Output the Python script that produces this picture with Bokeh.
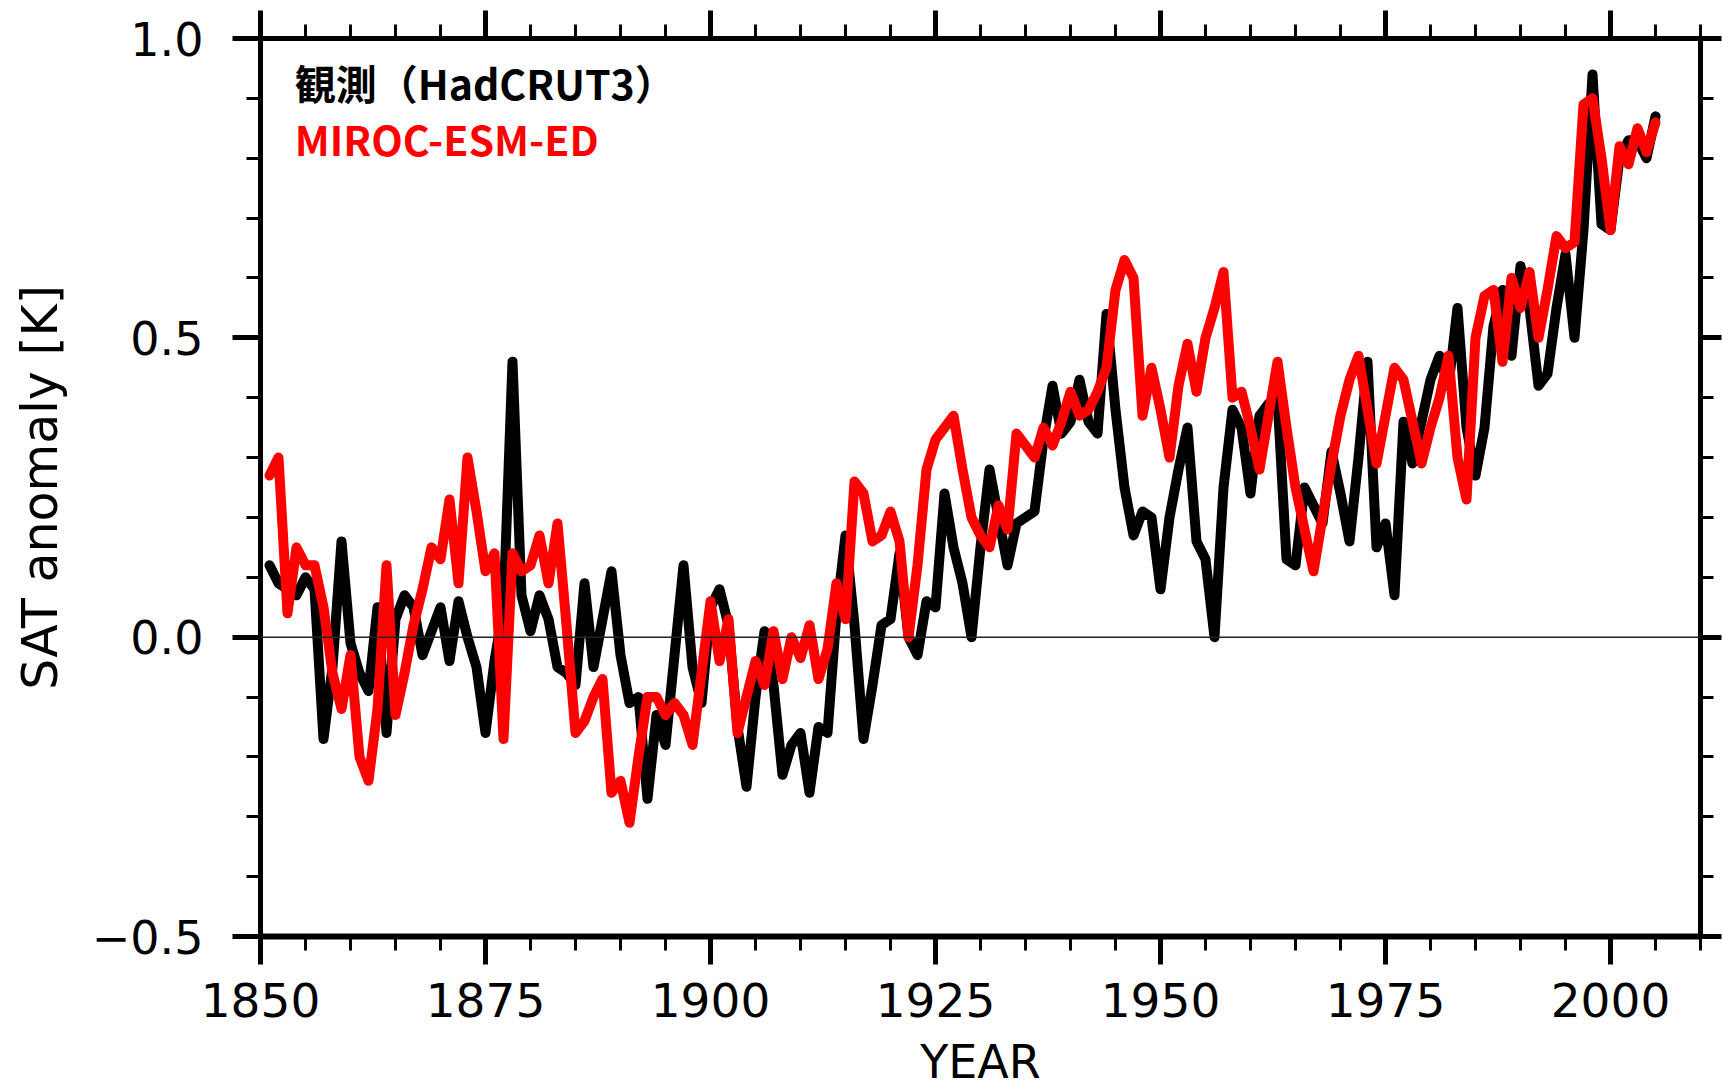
from bokeh.plotting import figure
from bokeh.models import LinearAxis, FixedTicker, Range1d, Span, Label
from bokeh.embed import file_html
from bokeh.resources import INLINE

# ---------------- data ----------------
years = list(range(1851, 2006))

hadcrut3 = [
    0.12, 0.09, 0.08, 0.07, 0.10, 0.08, -0.17, -0.05, 0.16,             # 1851-1859
    -0.01, -0.06, -0.09, 0.05, -0.16, 0.03, 0.07, 0.05, -0.03, 0.01,    # 1860-1869
    0.05, -0.04, 0.06, 0.00, -0.05, -0.16, -0.04, 0.05, 0.46, 0.07,     # 1870-1879
    0.01, 0.07, 0.03, -0.05, -0.06, -0.08, 0.09, -0.05, 0.03, 0.11,     # 1880-1889
    -0.03, -0.11, -0.10, -0.27, -0.13, -0.18, -0.03, 0.12, -0.05, -0.11,  # 1890-1899
    0.05, 0.08, 0.02, -0.15, -0.25, -0.10, 0.01, -0.08, -0.23, -0.18,   # 1900-1909
    -0.16, -0.26, -0.15, -0.16, 0.04, 0.17, 0.02, -0.17, -0.08, 0.02,   # 1910-1919
    0.03, 0.14, 0.00, -0.03, 0.06, 0.05, 0.24, 0.15, 0.09, 0.00,        # 1920-1929
    0.15, 0.28, 0.20, 0.12, 0.19, 0.20, 0.21, 0.33, 0.42, 0.34,         # 1930-1939
    0.36, 0.43, 0.36, 0.34, 0.54, 0.38, 0.25, 0.17, 0.21, 0.20,         # 1940-1949
    0.08, 0.20, 0.28, 0.35, 0.16, 0.13, 0.00, 0.25, 0.38, 0.35,         # 1950-1959
    0.24, 0.37, 0.39, 0.40, 0.13, 0.12, 0.25, 0.22, 0.19, 0.31,         # 1960-1969
    0.24, 0.16, 0.30, 0.46, 0.15, 0.19, 0.07, 0.36, 0.29, 0.36,         # 1970-1979
    0.43, 0.47, 0.42, 0.55, 0.35, 0.27, 0.35, 0.52, 0.58, 0.47,         # 1980-1989
    0.62, 0.55, 0.42, 0.44, 0.55, 0.64, 0.50, 0.68, 0.94, 0.69,         # 1990-1999
    0.68, 0.80, 0.83, 0.83, 0.80, 0.87,                                 # 2000-2005
]

miroc_esm_ed = [
    0.27, 0.30, 0.04, 0.15, 0.12, 0.12, 0.05, -0.06, -0.12,             # 1851-1859
    -0.03, -0.20, -0.24, -0.12, 0.12, -0.13, -0.06, 0.02, 0.08, 0.15,   # 1860-1869
    0.13, 0.23, 0.09, 0.30, 0.21, 0.11, 0.14, -0.17, 0.14, 0.11,        # 1870-1879
    0.12, 0.17, 0.09, 0.19, 0.02, -0.16, -0.14, -0.10, -0.07, -0.26,    # 1880-1889
    -0.24, -0.31, -0.20, -0.10, -0.10, -0.13, -0.11, -0.13, -0.18, -0.06,  # 1890-1899
    0.06, -0.04, 0.03, -0.16, -0.10, -0.04, -0.08, 0.01, -0.07, 0.00,   # 1900-1909
    -0.035, 0.02, -0.07, -0.02, 0.09, 0.03, 0.26, 0.24, 0.16, 0.17,     # 1910-1919
    0.21, 0.16, 0.00, 0.12, 0.28, 0.33, 0.35, 0.37, 0.28, 0.20,         # 1920-1929
    0.17, 0.15, 0.22, 0.18, 0.34, 0.32, 0.30, 0.35, 0.32, 0.36,         # 1930-1939
    0.41, 0.37, 0.38, 0.41, 0.45, 0.58, 0.63, 0.60, 0.37, 0.45,         # 1940-1949
    0.38, 0.30, 0.42, 0.49, 0.41, 0.50, 0.55, 0.61, 0.40, 0.41,         # 1950-1959
    0.35, 0.28, 0.37, 0.46, 0.35, 0.25, 0.18, 0.11, 0.20, 0.29,         # 1960-1969
    0.37, 0.43, 0.47, 0.38, 0.29, 0.37, 0.45, 0.43, 0.36, 0.29,         # 1970-1979
    0.35, 0.40, 0.47, 0.30, 0.23, 0.50, 0.57, 0.58, 0.46, 0.60,         # 1980-1989
    0.55, 0.61, 0.50, 0.58, 0.67, 0.65, 0.66, 0.89, 0.90, 0.80,         # 1990-1999
    0.68, 0.82, 0.79, 0.85, 0.81, 0.86,                                 # 2000-2005
]

x_major = [1850, 1875, 1900, 1925, 1950, 1975, 2000]
x_minor = list(range(1850, 2011, 5))
y_major = [-0.5, 0.0, 0.5, 1.0]
y_minor = [round(-0.5 + 0.1 * i, 1) for i in range(16)]
y_tick_labels = {-0.5: "\u22120.5", 0.0: "0.0", 0.5: "0.5", 1.0: "1.0"}

series_names = ["観測（HadCRUT3）", "MIROC-ESM-ED"]
series_colors = ["#000000", "#ff0000"]

# ---------------- figure ----------------
TICK_FONT = "DejaVu Sans"

p = figure(
    width=1722, height=1091,
    output_backend="svg", toolbar_location=None,
    x_range=Range1d(1850, 2010), y_range=Range1d(-0.5, 1.0),
    min_border_left=260, min_border_right=22,
    min_border_top=38, min_border_bottom=155,
    x_axis_label="YEAR", y_axis_label="SAT anomaly [K]",
)
p.outline_line_color = None
p.xgrid.visible = False
p.ygrid.visible = False
p.background_fill_color = "white"
p.border_fill_color = "white"


def style_axis(ax, width=5, major_out=28, minor_out=14):
    ax.axis_line_color = "black"
    ax.axis_line_width = width
    ax.major_tick_line_color = "black"
    ax.minor_tick_line_color = "black"
    ax.major_tick_line_width = 5
    ax.minor_tick_line_width = 3
    ax.major_tick_in = 0
    ax.minor_tick_in = 0
    ax.major_tick_out = major_out
    ax.minor_tick_out = minor_out
    ax.major_label_text_font = TICK_FONT
    ax.major_label_text_font_size = "46px"
    ax.major_label_text_color = "black"
    ax.axis_label_text_font = TICK_FONT
    ax.axis_label_text_font_style = "normal"
    ax.axis_label_text_color = "black"


xb = p.xaxis[0]
xb.ticker = FixedTicker(ticks=x_major, minor_ticks=x_minor)
style_axis(xb, width=6)
xb.major_label_text_font_size = "47px"
xb.major_label_standoff = 18
xb.axis_label_standoff = 15
xb.axis_label_text_font_size = "46px"

yl = p.yaxis[0]
yl.ticker = FixedTicker(ticks=y_major, minor_ticks=y_minor)
style_axis(yl)
yl.major_label_overrides = y_tick_labels
yl.major_label_standoff = 29
yl.axis_label_standoff = 20
yl.axis_label_text_font_size = "49px"

# top and right frame axes (ticks only)
xt = LinearAxis(ticker=FixedTicker(ticks=x_major, minor_ticks=x_minor))
style_axis(xt)
xt.major_label_overrides = {t: "" for t in x_major}
xt.major_label_text_font_size = "1px"
xt.major_label_standoff = 0
p.add_layout(xt, "above")

yr = LinearAxis(ticker=FixedTicker(ticks=y_major, minor_ticks=y_minor))
style_axis(yr, major_out=21, minor_out=13)
yr.major_label_overrides = {t: "" for t in y_major}
yr.major_label_text_font_size = "1px"
yr.major_label_standoff = 0
p.add_layout(yr, "right")

# zero line
p.add_layout(Span(location=0, dimension="width", line_color="#222222", line_width=1.5))

# series
p.line(years, hadcrut3, line_color=series_colors[0], line_width=10,
       line_join="round", line_cap="round")
p.line(years, miroc_esm_ed, line_color=series_colors[1], line_width=10,
       line_join="round", line_cap="round")

# in-plot legend texts
for name, color, yv in zip(series_names, series_colors, [0.928, 0.834]):
    p.add_layout(Label(x=1853.8, y=yv, text=name, text_color=color,
                       text_font="Noto Sans CJK JP", text_font_style="bold",
                       text_font_size="41px", text_align="left",
                       text_baseline="alphabetic"))

open("out.html", "w").write(file_html(p, INLINE))
